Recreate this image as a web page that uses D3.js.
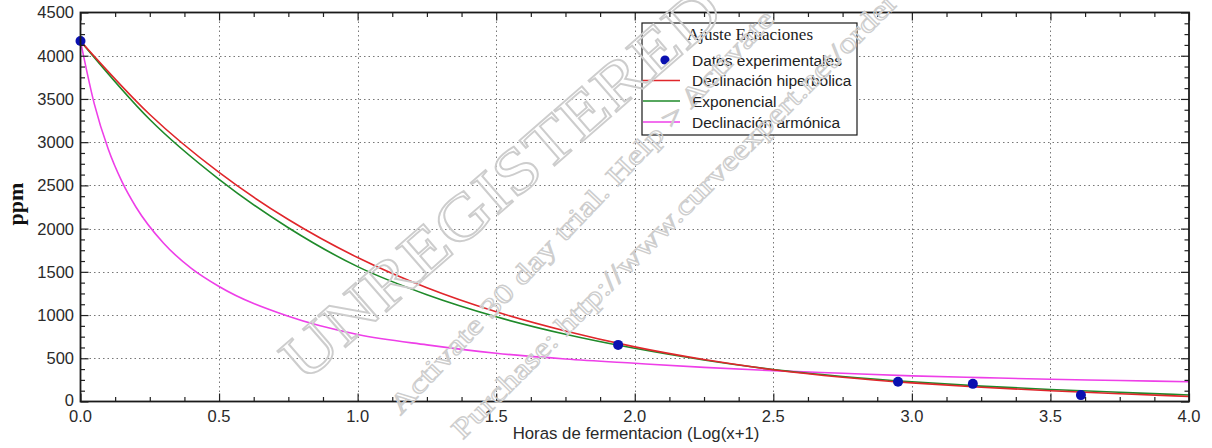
<!DOCTYPE html>
<html>
<head>
<meta charset="utf-8">
<script src="https://cdn.jsdelivr.net/npm/d3@7"></script>
<style>
  body { margin: 0; background: #fff; }
  svg { display: block; }
</style>
</head>
<body>
<svg id="chart" width="1212" height="448"></svg>
<script>
// Measured samples (log hours vs ppm)
const sampleX = [0, 1.94, 2.95, 3.22, 3.61];
const sampleY = [4170, 655, 228, 204, 74];

// Fitted curves, sampled along x
const fitX = [0, 0.25, 0.5, 0.75, 1, 1.25, 1.5, 1.75, 2, 2.25, 2.5, 2.75, 3, 3.25, 3.5, 3.75, 4];
const hyperbolicY = [4170, 3320, 2650, 2105, 1665, 1315, 1037, 815, 632, 485, 368, 280, 215, 165, 125, 90, 58];
const exponentialY = [4170, 3262, 2570, 2010, 1560, 1235, 980, 778, 615, 480, 370, 290, 228, 178, 139, 106, 76];

const harmonicX = [0, 0.05, 0.1, 0.15, 0.2, 0.3, 0.4, 0.5, 0.75, 1, 1.25, 1.5, 1.75, 2, 2.25, 2.5, 2.75, 3, 3.25, 3.5, 3.75, 4];
const harmonicY = [4170, 3440, 2920, 2540, 2250, 1830, 1540, 1330, 985, 775, 655, 558, 492, 442, 395, 357, 326, 296, 276, 257, 243, 229];

const xTickValues = [0, 0.5, 1, 1.5, 2, 2.5, 3, 3.5, 4];
const yTickValues = [0, 500, 1000, 1500, 2000, 2500, 3000, 3500, 4000, 4500];
const legendTitle = "Ajuste Ecuaciones";
const legendLabels = ["Datos experimentales", "Declinación hiperbólica", "Exponencial", "Declinación armónica"];
const seriesColors = ["#0a10b0", "#e0262b", "#1f8a2a", "#ee3fe8"];

const svg = d3.select("#chart");
const plotL = 80.5, plotR = 1189, plotT = 12.5, plotB = 401.5;

const x = d3.scaleLinear().domain([0, 4]).range([plotL, plotR]);
const y = d3.scaleLinear().domain([0, 4500]).range([plotB, plotT]);

const minorX = d3.range(0, 4.0001, 0.125).filter(v => !xTickValues.some(t => Math.abs(t - v) < 1e-6));
const minorY = d3.range(0, 4500.1, 125).filter(v => v % 500 !== 0);

// Dotted grid
const grid = svg.append("g");
grid.selectAll("line.gx").data(xTickValues.slice(1, -1)).join("line")
  .attr("x1", d => Math.round(x(d)) + 0.5).attr("x2", d => Math.round(x(d)) + 0.5)
  .attr("y1", plotT).attr("y2", plotB)
  .attr("stroke", "#777").attr("stroke-width", 1).attr("stroke-dasharray", "1.5,3");
grid.selectAll("line.gy").data(yTickValues.slice(1, -1)).join("line")
  .attr("y1", d => Math.round(y(d)) + 0.5).attr("y2", d => Math.round(y(d)) + 0.5)
  .attr("x1", plotL).attr("x2", plotR)
  .attr("stroke", "#777").attr("stroke-width", 1).attr("stroke-dasharray", "1.5,3");

// Curves
const plot = svg.append("g");
plot.append("clipPath").attr("id", "clip").append("rect")
  .attr("x", plotL).attr("y", plotT).attr("width", plotR - plotL).attr("height", plotB - plotT);
const curves = plot.append("g").attr("clip-path", "url(#clip)");
const line = d3.line().x(d => x(d[0])).y(d => y(d[1])).curve(d3.curveMonotoneX);

const series = [
  { xs: harmonicX, ys: harmonicY, color: seriesColors[3] },
  { xs: fitX, ys: exponentialY, color: seriesColors[2] },
  { xs: fitX, ys: hyperbolicY, color: seriesColors[1] }
];
series.forEach(s => {
  curves.append("path").datum(d3.zip(s.xs, s.ys))
    .attr("d", line).attr("fill", "none")
    .attr("stroke", s.color).attr("stroke-width", 1.6);
});

// Measured points
plot.selectAll("circle.pt").data(d3.zip(sampleX, sampleY)).join("circle")
  .attr("cx", d => x(d[0])).attr("cy", d => y(d[1])).attr("r", 5)
  .attr("fill", seriesColors[0]);

// Frame with inward ticks on all four sides
const axes = svg.append("g").attr("color", "#222");
function tickAxis(axisFn, scale, values, size, transform) {
  const g = axes.append("g").attr("transform", transform)
    .call(axisFn(scale).tickValues(values).tickSize(size).tickFormat(""));
  g.select(".domain").remove();
  g.selectAll(".tick line").attr("stroke-width", 1.2);
}
tickAxis(d3.axisTop, x, xTickValues, 8, `translate(0,${plotB})`);
tickAxis(d3.axisTop, x, minorX, 4.5, `translate(0,${plotB})`);
tickAxis(d3.axisBottom, x, xTickValues, 8, `translate(0,${plotT})`);
tickAxis(d3.axisBottom, x, minorX, 4.5, `translate(0,${plotT})`);
tickAxis(d3.axisRight, y, yTickValues, 8, `translate(${plotL},0)`);
tickAxis(d3.axisRight, y, minorY, 4.5, `translate(${plotL},0)`);
tickAxis(d3.axisLeft, y, yTickValues, 8, `translate(${plotR},0)`);
tickAxis(d3.axisLeft, y, minorY, 4.5, `translate(${plotR},0)`);

svg.append("rect").attr("x", plotL).attr("y", plotT)
  .attr("width", plotR - plotL).attr("height", plotB - plotT)
  .attr("fill", "none").attr("stroke", "#1a1a1a").attr("stroke-width", 1.8);

// Tick labels
const labelFont = "'Liberation Sans', Arial, sans-serif";
svg.append("g").selectAll("text").data(yTickValues).join("text")
  .attr("x", 74).attr("y", d => y(d) - (d === 0 ? 1 : 0)).attr("dy", "0.36em")
  .attr("text-anchor", "end").attr("font-family", labelFont)
  .attr("font-size", 16.5).attr("fill", "#2a2a2a").text(d => d);
svg.append("g").selectAll("text").data(xTickValues).join("text")
  .attr("x", d => x(d)).attr("y", 422)
  .attr("text-anchor", "middle").attr("font-family", labelFont)
  .attr("font-size", 16.5).attr("fill", "#2a2a2a").text(d => d.toFixed(1));

// Axis titles
svg.append("text").attr("x", 636).attr("y", 439).attr("text-anchor", "middle")
  .attr("font-family", labelFont).attr("font-size", 16.8).attr("fill", "#2a2a2a")
  .text("Horas de fermentacion (Log(x+1)");
svg.append("text").attr("transform", "translate(23,204) rotate(-90)")
  .attr("text-anchor", "middle").attr("font-family", "'Liberation Serif', 'Times New Roman', serif")
  .attr("font-weight", "bold").attr("font-size", 22).attr("fill", "#111")
  .text("ppm");

// Legend
const lg = svg.append("g");
lg.append("rect").attr("x", 642).attr("y", 23).attr("width", 215).attr("height", 112)
  .attr("fill", "#fff").attr("stroke", "#1a1a1a").attr("stroke-width", 1.2);
lg.append("text").attr("x", 750).attr("y", 40).attr("text-anchor", "middle")
  .attr("font-family", "'Liberation Serif', 'Times New Roman', serif")
  .attr("font-size", 17).attr("fill", "#222").text(legendTitle);
const rowY = [60, 80.5, 101, 122];
legendLabels.forEach((label, i) => {
  if (i === 0) {
    lg.append("circle").attr("cx", 665).attr("cy", rowY[i]).attr("r", 4.6).attr("fill", seriesColors[0]);
  } else {
    lg.append("line").attr("x1", 643).attr("x2", 680).attr("y1", rowY[i]).attr("y2", rowY[i])
      .attr("stroke", seriesColors[i]).attr("stroke-width", 1.4);
  }
  lg.append("text").attr("x", 692).attr("y", rowY[i]).attr("dy", "0.36em")
    .attr("font-family", labelFont).attr("font-size", 15.5).attr("fill", "#222").text(label);
});

// Trial-version watermark, stamped over everything
const wm = svg.append("g").attr("fill", "none").attr("stroke", "#cdcdcd")
  .attr("font-family", "'Liberation Serif', 'Times New Roman', serif");
wm.append("text").attr("transform", "translate(515,200) rotate(-41)")
  .attr("text-anchor", "middle").attr("font-size", 64).attr("stroke-width", 1.8)
  .attr("textLength", 560).attr("lengthAdjust", "spacingAndGlyphs")
  .text("UNREGISTERED");
wm.append("text").attr("transform", "translate(588,218) rotate(-46.5)")
  .attr("text-anchor", "middle").attr("font-size", 27).attr("stroke-width", 1.1)
  .attr("textLength", 545).attr("lengthAdjust", "spacingAndGlyphs")
  .text("Activate 30 day trial. Help > Activate");
wm.append("text").attr("transform", "translate(681,222) rotate(-45)")
  .attr("text-anchor", "middle").attr("font-size", 28).attr("stroke-width", 1.1)
  .attr("textLength", 617).attr("lengthAdjust", "spacingAndGlyphs")
  .text("Purchase: http://www.curveexpert.net/order");
</script>
</body>
</html>
